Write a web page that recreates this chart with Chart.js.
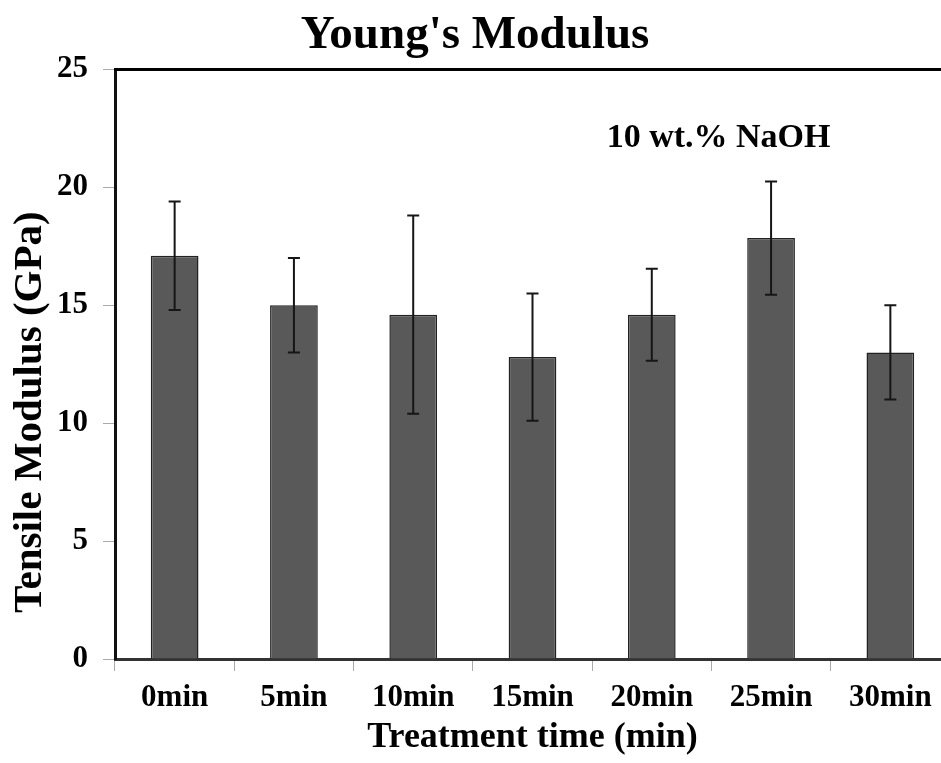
<!DOCTYPE html>
<html>
<head>
<meta charset="utf-8">
<script src="https://cdn.jsdelivr.net/npm/chart.js@4"></script>
<style>
  html, body { margin: 0; padding: 0; background: #fff; overflow: hidden; }
  #wrap { width: 960px; height: 763px; }
</style>
</head>
<body>
<div id="wrap"><canvas id="modChart" width="960" height="763"></canvas></div>
<script>
// ─── Young's Modulus vs treatment time (10 wt.% NaOH) ───
const categories = ['0min', '5min', '10min', '15min', '20min', '25min', '30min'];
const modulus    = [17.1, 15.0, 14.6, 12.8, 14.6, 17.85, 13.0];
const stdDev     = [2.3, 2.0, 4.2, 2.7, 1.95, 2.4, 2.0];
const yTicks     = [0, 5, 10, 15, 20, 25];

const SERIF = "'Liberation Serif', 'Times New Roman', serif";

// error bars, drawn through the chart's own scales
const errorBars = {
    id: 'errorBars',
    afterDatasetsDraw(chart) {
        const ctx  = chart.ctx;
        const y    = chart.scales.y;
        const meta = chart.getDatasetMeta(0);
        ctx.save();
        ctx.strokeStyle = '#161616';
        ctx.lineWidth = 2;
        meta.data.forEach(function(bar, i) {
            const top = y.getPixelForValue(modulus[i] + stdDev[i]);
            const bot = y.getPixelForValue(modulus[i] - stdDev[i]);
            ctx.beginPath();
            ctx.moveTo(bar.x, top); ctx.lineTo(bar.x, bot);
            ctx.moveTo(bar.x - 6, top); ctx.lineTo(bar.x + 6, top);
            ctx.moveTo(bar.x - 6, bot); ctx.lineTo(bar.x + 6, bot);
            ctx.stroke();
        });
        ctx.restore();
    }
};

// top frame line, y-axis title and the NaOH note
const extras = {
    id: 'extras',
    afterDraw(chart) {
        const ctx  = chart.ctx;
        const area = chart.chartArea;
        const x = chart.scales.x, y = chart.scales.y;
        ctx.save();
        ctx.strokeStyle = '#000';
        ctx.lineWidth = 3;
        ctx.beginPath();
        ctx.moveTo(area.left - 1, area.top);
        ctx.lineTo(area.right, area.top);
        ctx.stroke();

        ctx.fillStyle = '#000';
        ctx.font = 'bold 34px ' + SERIF;
        ctx.textAlign = 'center';
        ctx.textBaseline = 'middle';
        ctx.fillText('10 wt.% NaOH', x.getPixelForValue(4.56), y.getPixelForValue(22.1));

        ctx.translate(30, (y.top + y.bottom) / 2 + 48);
        ctx.rotate(-Math.PI / 2);
        ctx.font = 'bold 41px ' + SERIF;
        ctx.fillText('Tensile Modulus (GPa)', 0, 0);
        ctx.restore();
    }
};

new Chart(document.getElementById('modChart').getContext('2d'), {
    type: 'bar',
    data: {
        labels: categories,
        datasets: [{
            label: "Young's Modulus",
            data: modulus,
            backgroundColor: '#595959',
            borderColor: '#222',
            borderWidth: 1.5,
            categoryPercentage: 1.0,
            barPercentage: 0.40
        }]
    },
    options: {
        responsive: false,
        animation: false,
        devicePixelRatio: 1,
        layout: { padding: { left: 0, right: 10, top: 0, bottom: 0 } },
        plugins: {
            legend: { display: false },
            tooltip: { enabled: false },
            title: {
                display: true,
                text: "Young's Modulus",
                color: '#000',
                font: { family: SERIF, size: 47, weight: 'bold', lineHeight: 1.2 },
                padding: { top: 8, bottom: 5 }
            }
        },
        scales: {
            x: {
                grid: { drawOnChartArea: false, drawTicks: true, tickLength: 12, color: '#aaaaaa', offset: true },
                border: { display: true, color: '#333', width: 3 },
                ticks: {
                    color: '#000',
                    padding: 8,
                    maxRotation: 0,
                    font: { family: SERIF, size: 31, weight: 'bold' }
                },
                title: {
                    display: true,
                    text: 'Treatment time (min)',
                    color: '#000',
                    font: { family: SERIF, size: 36, weight: 'bold', lineHeight: 1.2 },
                    padding: { top: 0, bottom: 4 }
                },
                afterFit: function(scale) { scale.height = 104; }
            },
            y: {
                min: 0,
                max: 25,
                afterBuildTicks: function(scale) {
                    scale.ticks = yTicks.map(function(v) { return { value: v }; });
                },
                grid: { drawOnChartArea: false, drawTicks: true, tickLength: 12, color: '#aaaaaa' },
                border: { display: true, color: '#111', width: 3 },
                ticks: {
                    color: '#000',
                    padding: 15,
                    font: { family: SERIF, size: 31, weight: 'bold' }
                },
                afterFit: function(scale) { scale.width = 115; }
            }
        }
    },
    plugins: [errorBars, extras]
});
</script>
</body>
</html>
